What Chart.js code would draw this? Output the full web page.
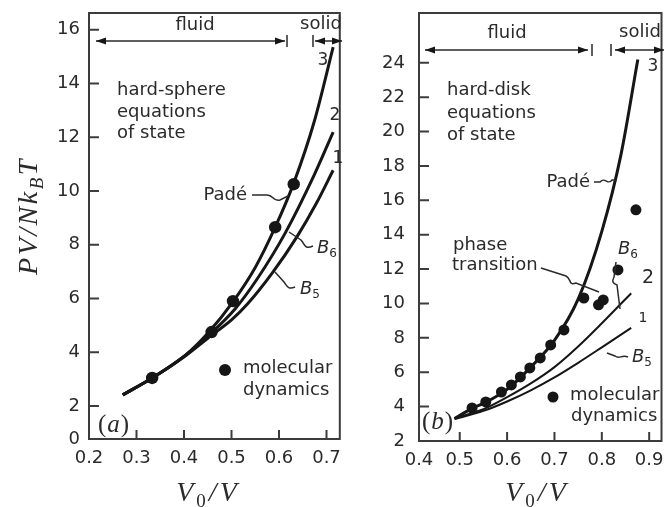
<!DOCTYPE html>
<html>
<head>
<meta charset="utf-8">
<script src="https://cdn.jsdelivr.net/npm/chart.js@4.4.1/dist/chart.umd.min.js"></script>
<style>
  body { margin: 0; background: #fff; width: 667px; height: 507px; overflow: hidden; position: relative; }
  canvas { position: absolute; top: 0; }
  #chartA { left: 0; }
  #chartB { left: 346px; }
</style>
</head>
<body>
<canvas id="chartA" width="346" height="507"></canvas>
<canvas id="chartB" width="321" height="507"></canvas>
<script>
// ---- (a) hard spheres ----
const aPadeX = [0.271, 0.333, 0.404, 0.45, 0.503, 0.55, 0.592, 0.631, 0.675, 0.714];
const aPadeY = [2.41, 3.04, 3.90, 4.70, 5.87, 7.15, 8.65, 10.29, 12.63, 15.35];
const aB6X = [0.271, 0.333, 0.404, 0.45, 0.507, 0.555, 0.613, 0.673, 0.714];
const aB6Y = [2.41, 3.04, 3.90, 4.60, 5.60, 6.75, 8.43, 10.55, 12.19];
const aB5X = [0.271, 0.333, 0.404, 0.45, 0.5, 0.534, 0.586, 0.638, 0.679, 0.714];
const aB5Y = [2.41, 3.04, 3.88, 4.52, 5.20, 5.80, 6.95, 8.30, 9.55, 10.77];
const aMdX = [0.333, 0.458, 0.503, 0.592, 0.631];
const aMdY = [3.04, 4.75, 5.90, 8.65, 10.25];
const aXTicks = [0.2, 0.3, 0.4, 0.5, 0.6, 0.7];
const aXTickLabels = ['0.2', '0.3', '0.4', '0.5', '0.6', '0.7'];
const aYTicks = [2, 4, 6, 8, 10, 12, 14, 16];
const aYTickLabels = ['0', '2', '4', '6', '8', '10', '12', '14', '16']; // first one sits on the broken axis floor

// ---- (b) hard disks ----
const bPadeX = [0.489, 0.526, 0.555, 0.6, 0.65, 0.7, 0.75, 0.8, 0.84, 0.876];
const bPadeY = [3.30, 3.90, 4.25, 5.00, 6.30, 7.85, 10.25, 14.2, 18.6, 24.2];
const bB6X = [0.489, 0.55, 0.6, 0.65, 0.7, 0.75, 0.8, 0.862];
const bB6Y = [3.32, 3.85, 4.55, 5.35, 6.30, 7.50, 8.85, 10.6];
const bB5X = [0.489, 0.55, 0.6, 0.65, 0.7, 0.75, 0.8, 0.862];
const bB5Y = [3.28, 3.75, 4.30, 4.95, 5.70, 6.55, 7.45, 8.58];
const bMdX = [0.526, 0.555, 0.588, 0.609, 0.628, 0.648, 0.670, 0.692, 0.720, 0.762, 0.793, 0.803, 0.834, 0.872];
const bMdY = [3.92, 4.27, 4.85, 5.26, 5.73, 6.25, 6.83, 7.59, 8.46, 10.32, 9.92, 10.21, 11.95, 15.45];
const bXTicks = [0.5, 0.6, 0.7, 0.8, 0.9];
const bXTickLabels = ['0.4', '0.5', '0.6', '0.7', '0.8', '0.9']; // first one sits on the frame
const bYTicks = [2, 4, 6, 8, 10, 12, 14, 16, 18, 20, 22, 24];
const bYTickLabels = ['2', '4', '6', '8', '10', '12', '14', '16', '18', '20', '22', '24'];

const INK = '#161616', TXT = '#2a2a2a';
const SANS = '"DejaVu Sans", sans-serif';
const SERIF = '"Liberation Serif", serif';

const pts = (xs, ys) => xs.map((x, i) => ({ x: x, y: ys[i] }));

function label(ctx, s, x, y, align = 'left', size = 18) {
  ctx.font = size + 'px ' + SANS;
  ctx.textAlign = align;
  ctx.textBaseline = 'middle';
  ctx.fillStyle = TXT;
  ctx.fillText(s, x, y);
}

// runs: [text, isSub, italic?] drawn centred at cx,cy
function mathRun(ctx, runs, cx, cy, o = {}) {
  const size = o.size || 28, fam = o.family || SERIF;
  ctx.save();
  ctx.translate(cx, cy);
  if (o.rotate) ctx.rotate(o.rotate);
  ctx.letterSpacing = (o.spacing || 0) + 'px';
  ctx.fillStyle = TXT;
  ctx.textBaseline = 'alphabetic';
  ctx.textAlign = 'left';
  const fontOf = r => (r[2] === false ? '' : 'italic ') + Math.round(r[1] ? size * 0.68 : size) + 'px ' + fam;
  let w = 0;
  runs.forEach(r => { ctx.font = fontOf(r); w += ctx.measureText(r[0]).width; });
  let x = -w / 2;
  const base = size * 0.34;
  runs.forEach(r => {
    ctx.font = fontOf(r);
    ctx.fillText(r[0], x, base + (r[1] ? size * 0.24 : 0));
    x += ctx.measureText(r[0]).width;
  });
  ctx.restore();
}

function head(ctx, x, y, dir) {
  ctx.beginPath();
  ctx.moveTo(x, y);
  ctx.lineTo(x - dir * 10, y - 3.5);
  ctx.lineTo(x - dir * 10, y + 3.5);
  ctx.closePath();
  ctx.fill();
}

// |<---->| style range marker
function range(ctx, x1, x2, y, bars) {
  ctx.beginPath();
  ctx.moveTo(x1, y); ctx.lineTo(x2, y);
  bars.forEach(b => { ctx.moveTo(b, y - 6); ctx.lineTo(b, y + 6); });
  ctx.stroke();
  head(ctx, x1, y, -1);
  head(ctx, x2, y, 1);
}

function dot(ctx, x, y, r) {
  ctx.beginPath();
  ctx.arc(x, y, r, 0, Math.PI * 2);
  ctx.fill();
}

// keep the plot box where the figure has it
function noPad(s) {
  s.paddingLeft = 0; s.paddingRight = 0; s.paddingTop = 0; s.paddingBottom = 0;
}

const frameTicks = {
  id: 'frameTicks',
  afterDraw(chart, args, opts) {
    const { ctx, chartArea: a, scales: { x, y } } = chart;
    ctx.save();
    ctx.strokeStyle = '#3c3c3c';
    ctx.lineWidth = 2;
    ctx.strokeRect(a.left, a.top, a.right - a.left, a.bottom - a.top);
    ctx.beginPath();
    opts.xTicks.forEach(v => {
      const px = x.getPixelForValue(v);
      if (px > a.left + 2 && px < a.right - 2) { ctx.moveTo(px, a.bottom); ctx.lineTo(px, a.bottom - 9); }
    });
    opts.yTicks.forEach(v => {
      const py = y.getPixelForValue(v);
      if (py > a.top + 2 && py < a.bottom - 2) { ctx.moveTo(a.left, py); ctx.lineTo(a.left + 10, py); }
    });
    ctx.stroke();
    // notes are written in page coordinates
    ctx.translate(-opts.ox, 0);
    ctx.fillStyle = INK;
    ctx.strokeStyle = '#2a2a2a';
    ctx.lineWidth = 1.5;
    opts.notes(ctx);
    ctx.restore();
  }
};

function notesA(ctx) {
  label(ctx, 'fluid', 195, 25, 'center');
  label(ctx, 'solid', 321, 24, 'center');
  ctx.fillStyle = INK;
  range(ctx, 96, 285, 41, [287]);
  range(ctx, 315, 342, 41, [313]);
  label(ctx, '3', 323, 61, 'center', 17);
  label(ctx, '2', 335, 116, 'center', 17);
  label(ctx, '1', 338, 159, 'center', 17);
  label(ctx, 'hard-sphere', 117, 90);
  label(ctx, 'equations', 117, 112);
  label(ctx, 'of state', 117, 133);
  label(ctx, 'Padé', 247, 195, 'right');
  ctx.beginPath();
  ctx.moveTo(252, 195); ctx.lineTo(266, 195);
  ctx.bezierCurveTo(274, 194, 272, 202, 280, 200);
  ctx.lineTo(288, 196);
  ctx.stroke();
  ctx.beginPath();
  ctx.moveTo(289, 232); ctx.lineTo(301, 240);
  ctx.bezierCurveTo(305, 244, 304, 250, 313, 246);
  ctx.stroke();
  mathRun(ctx, [['B', 0], ['6', 1, false]], 327, 247, { size: 18, family: SANS });
  ctx.beginPath();
  ctx.moveTo(275, 272); ctx.lineTo(284, 282);
  ctx.bezierCurveTo(287, 286, 288, 290, 295, 287);
  ctx.stroke();
  mathRun(ctx, [['B', 0], ['5', 1, false]], 310, 288, { size: 18, family: SANS });
  ctx.fillStyle = INK;
  dot(ctx, 225, 370, 6);
  label(ctx, 'molecular', 243, 368);
  label(ctx, 'dynamics', 243, 390);
  mathRun(ctx, [['(', 0, false], ['a', 0], [')', 0, false]], 114, 423, { size: 25, spacing: 1 });
  mathRun(ctx, [['PV/Nk', 0], ['B', 1], ['T', 0]], 27, 216, { size: 28, spacing: 2.5, rotate: -Math.PI / 2 });
  mathRun(ctx, [['V', 0], ['0', 1, false], ['/V', 0]], 208, 491, { size: 28, spacing: 3 });
}

function notesB(ctx) {
  label(ctx, 'fluid', 507, 33, 'center');
  label(ctx, 'solid', 640, 32, 'center');
  ctx.fillStyle = INK;
  range(ctx, 425, 588, 50, [592]);
  range(ctx, 615, 664, 50, [611]);
  label(ctx, '3', 653, 67, 'center', 17);
  label(ctx, 'hard-disk', 447, 90);
  label(ctx, 'equations', 447, 113);
  label(ctx, 'of state', 447, 135);
  label(ctx, 'Padé', 590, 182, 'right');
  ctx.beginPath();
  ctx.moveTo(594, 182); ctx.lineTo(600, 182);
  ctx.bezierCurveTo(605, 176, 608, 186, 612, 180);
  ctx.lineTo(617, 180);
  ctx.stroke();
  label(ctx, 'phase', 453, 245);
  label(ctx, 'transition', 452, 265);
  ctx.beginPath();
  ctx.moveTo(541, 268); ctx.lineTo(566, 276);
  ctx.bezierCurveTo(572, 279, 568, 286, 576, 283);
  ctx.lineTo(599, 292);
  ctx.stroke();
  mathRun(ctx, [['B', 0], ['6', 1, false]], 628, 248, { size: 18, family: SANS });
  ctx.beginPath();
  ctx.moveTo(616, 262); ctx.lineTo(614, 277);
  ctx.bezierCurveTo(612, 281, 612, 283, 617, 285);
  ctx.lineTo(620, 309);
  ctx.stroke();
  label(ctx, '2', 648, 278, 'center', 19);
  label(ctx, '1', 643, 318, 'center', 14);
  ctx.beginPath();
  ctx.moveTo(607, 353); ctx.lineTo(615, 356);
  ctx.bezierCurveTo(620, 360, 621, 354, 628, 357);
  ctx.stroke();
  mathRun(ctx, [['B', 0], ['5', 1, false]], 642, 356, { size: 18, family: SANS });
  ctx.fillStyle = INK;
  dot(ctx, 553, 397, 5.5);
  label(ctx, 'molecular', 570, 395);
  label(ctx, 'dynamics', 571, 416);
  mathRun(ctx, [['(', 0, false], ['b', 0], [')', 0, false]], 438, 420, { size: 25, spacing: 1 });
  mathRun(ctx, [['V', 0], ['0', 1, false], ['/V', 0]], 537, 491, { size: 28, spacing: 3 });
}

const tickFont = { family: SANS, size: 18 };

function curve(xs, ys, w) {
  return {
    data: pts(xs, ys), showLine: true, borderColor: INK, borderWidth: w,
    pointRadius: 0, cubicInterpolationMode: 'monotone', fill: false
  };
}
function md(xs, ys, r) {
  return { data: pts(xs, ys), showLine: false, pointRadius: r, backgroundColor: INK, borderWidth: 0 };
}

// panel (a)
new Chart(document.getElementById('chartA'), {
  type: 'scatter',
  data: {
    datasets: [
      curve(aPadeX, aPadeY, 3),
      curve(aB6X, aB6Y, 3),
      curve(aB5X, aB5Y, 3),
      md(aMdX, aMdY, 6.2)
    ]
  },
  options: {
    responsive: false,
    animation: false,
    layout: { padding: { top: 13, right: 2, left: 0, bottom: 0 } },
    plugins: {
      legend: { display: false },
      tooltip: { enabled: false },
      frameTicks: { ox: 0, xTicks: aXTicks, yTicks: aYTicks, notes: notesA }
    },
    scales: {
      x: {
        type: 'linear', min: 0.2, max: 0.728,
        grid: { display: false, drawTicks: false }, border: { display: false },
        afterBuildTicks: s => { s.ticks = aXTicks.map(v => ({ value: v })); },
        afterFit: s => { s.height = 68; noPad(s); },
        ticks: { padding: 9, color: TXT, font: tickFont, maxRotation: 0, autoSkip: false,
                 callback: (v, i) => aXTickLabels[i] }
      },
      y: {
        type: 'linear', min: 0.77, max: 16.62,
        grid: { display: false, drawTicks: false }, border: { display: false },
        afterBuildTicks: s => { s.ticks = [{ value: s.min }].concat(aYTicks.map(v => ({ value: v }))); },
        afterFit: s => { s.width = 89; noPad(s); },
        ticks: { padding: 9, color: TXT, font: tickFont, autoSkip: false,
                 callback: (v, i) => aYTickLabels[i] }
      }
    }
  },
  plugins: [frameTicks]
});

// panel (b)
new Chart(document.getElementById('chartB'), {
  type: 'scatter',
  data: {
    datasets: [
      curve(bPadeX, bPadeY, 3),
      curve(bB6X, bB6Y, 2),
      curve(bB5X, bB5Y, 2),
      md(bMdX, bMdY, 5.5)
    ]
  },
  options: {
    responsive: false,
    animation: false,
    layout: { padding: { top: 13, right: 1, left: 0, bottom: 0 } },
    plugins: {
      legend: { display: false },
      tooltip: { enabled: false },
      frameTicks: { ox: 346, xTicks: bXTicks, yTicks: bYTicks, notes: notesB }
    },
    scales: {
      x: {
        type: 'linear', min: 0.414, max: 0.926,
        grid: { display: false, drawTicks: false }, border: { display: false },
        afterBuildTicks: s => { s.ticks = [{ value: s.min }].concat(bXTicks.map(v => ({ value: v }))); },
        afterFit: s => { s.height = 66; noPad(s); },
        ticks: { padding: 9, color: TXT, font: tickFont, maxRotation: 0, autoSkip: false,
                 callback: (v, i) => bXTickLabels[i] }
      },
      y: {
        type: 'linear', min: 2, max: 26.9,
        grid: { display: false, drawTicks: false }, border: { display: false },
        afterBuildTicks: s => { s.ticks = bYTicks.map(v => ({ value: v })); },
        afterFit: s => { s.width = 73; noPad(s); },
        ticks: { padding: 14, color: TXT, font: tickFont, autoSkip: false,
                 callback: (v, i) => bYTickLabels[i] }
      }
    }
  },
  plugins: [frameTicks]
});
</script>
</body>
</html>
